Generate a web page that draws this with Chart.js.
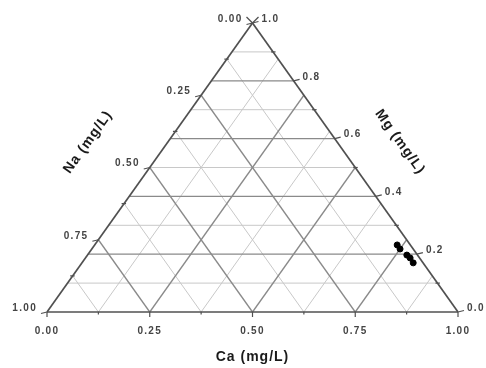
<!DOCTYPE html>
<html>
<head>
<meta charset="utf-8">
<script src="https://cdn.jsdelivr.net/npm/chart.js@4/dist/chart.umd.min.js"></script>
<style>
html,body{margin:0;padding:0;background:#fff;}
#wrap{width:486px;height:368px;position:relative;}
</style>
</head>
<body>
<div id="wrap"><canvas id="c" width="486" height="368"></canvas></div>
<script>
// ---- Data (ternary compositions) ----
const sampleCa = [0.736, 0.750, 0.777, 0.790, 0.806];
const sampleMg = [0.232, 0.218, 0.197, 0.187, 0.170];
const sampleNa = [0.032, 0.032, 0.026, 0.023, 0.024];

// ---- Tick labels ----
const caTickLabels = ['0.00', '0.25', '0.50', '0.75', '1.00'];
const naTickLabels = ['0.00', '0.25', '0.50', '0.75', '1.00'];
const mgTickLabels = ['0.0', '0.2', '0.4', '0.6', '0.8', '1.0'];
const caNaGridSteps = [0.125, 0.25, 0.375, 0.5, 0.625, 0.75, 0.875];
const mgGridSteps = [0.1, 0.2, 0.3, 0.4, 0.5, 0.6, 0.7, 0.8, 0.9];
const axisTitles = { ca: 'Ca (mg/L)', na: 'Na (mg/L)', mg: 'Mg (mg/L)' };

// ternary -> cartesian (x along base, y = height fraction)
function tern(ca, mg) { return { x: ca + mg / 2, y: mg }; }

const DARK = '#8a8a8a', LIGHT = '#c8c8c8', EDGE = '#505050';
const isMajor = v => Math.abs(v * 4 - Math.round(v * 4)) < 1e-6;
const isMajorMg = v => Math.abs(v * 5 - Math.round(v * 5)) < 1e-6;

const datasets = [];
function seg(a, b, color, width, order) {
  datasets.push({ data: [a, b], showLine: true, pointRadius: 0, borderColor: color,
    borderWidth: width, order: order, clip: false, tension: 0 });
}
// constant Mg (horizontal)
mgGridSteps.forEach(m => {
  const major = isMajorMg(m);
  seg(tern(0, m), tern(1 - m, m), major ? DARK : LIGHT, major ? 1.3 : 1, major ? 2 : 3);
});
// constant Ca (parallel to left edge)
caNaGridSteps.forEach(c => {
  const major = isMajor(c);
  seg(tern(c, 0), tern(c, 1 - c), major ? DARK : LIGHT, major ? 1.3 : 1, major ? 2 : 3);
});
// constant Na (parallel to right edge)
caNaGridSteps.forEach(n => {
  const major = isMajor(n);
  seg(tern(1 - n, 0), tern(0, 1 - n), major ? DARK : LIGHT, major ? 1.3 : 1, major ? 2 : 3);
});
// edges
seg(tern(0, 0), tern(1, 0), EDGE, 1.7, 1);
seg(tern(1, 0), tern(0, 1), EDGE, 1.7, 1);
seg(tern(0, 1), tern(0, 0), EDGE, 1.7, 1);
// samples
datasets.push({
  data: sampleCa.map((c, i) => tern(c, sampleMg[i])),
  pointRadius: 3, pointBackgroundColor: '#000', pointBorderColor: '#000',
  showLine: false, order: 0, clip: false
});

const labelPlugin = {
  id: 'ternLabels',
  afterDatasetsDraw(chart) {
    const ctx = chart.ctx, xs = chart.scales.x, ys = chart.scales.y;
    const P = (ca, mg) => { const t = tern(ca, mg); return [xs.getPixelForValue(t.x), ys.getPixelForValue(t.y)]; };
    ctx.save();
    ctx.strokeStyle = EDGE; ctx.lineWidth = 1.2;
    const line = (x1, y1, x2, y2) => { ctx.beginPath(); ctx.moveTo(x1, y1); ctx.lineTo(x2, y2); ctx.stroke(); };
    // bottom ticks (Ca)
    for (let i = 0; i <= 8; i++) {
      const v = i / 8; const [px, py] = P(v, 0);
      line(px, py, px, py + (i % 2 === 0 ? 5 : 2.5));
    }
    // left ticks (Na): Na = v on left edge -> Ca=0, Mg=1-v
    for (let i = 0; i <= 8; i++) {
      const v = i / 8; const [px, py] = P(0, 1 - v);
      if (i % 2 === 0) line(px, py, px - 6, py + 1.5); else line(px - 2.5, py, px + 2, py);
    }
    // right ticks (Mg): Ca = 1-m on right edge
    for (let i = 0; i <= 10; i++) {
      const m = i / 10; const [px, py] = P(1 - m, m);
      if (i % 2 === 0) line(px, py, px + 6, py - 1.5); else line(px - 2, py, px + 2.5, py);
    }
    // apex cross
    { const [px, py] = P(0, 1); line(px, py, px - 6, py - 6); line(px, py, px + 6, py - 6); }

    ctx.fillStyle = '#444';
    ctx.font = 'bold 10px "Liberation Sans", Arial, sans-serif';
    try { ctx.letterSpacing = '1.3px'; } catch (e) {}
    // bottom labels
    ctx.textAlign = 'center'; ctx.textBaseline = 'middle';
    caTickLabels.forEach((t, i) => { const [px, py] = P(i / 4, 0); ctx.fillText(t, px, py + 19); });
    // left labels
    ctx.textAlign = 'right';
    naTickLabels.forEach((t, i) => { const v = i / 4; const [px, py] = P(0, 1 - v); ctx.fillText(t, px - 10, py - 4); });
    // right labels
    ctx.textAlign = 'left';
    mgTickLabels.forEach((t, i) => { const m = i / 5; const [px, py] = P(1 - m, m); ctx.fillText(t, px + 9, py - 4); });

    // titles
    ctx.fillStyle = '#1a1a1a';
    ctx.font = 'bold 14px "Liberation Sans", Arial, sans-serif';
    try { ctx.letterSpacing = '1px'; } catch (e) {}
    ctx.textAlign = 'center'; ctx.textBaseline = 'middle';
    const [bx0] = P(0, 0), [bx1] = P(1, 0), [, by] = P(0, 0);
    ctx.fillText(axisTitles.ca, (bx0 + bx1) / 2, by + 45);
    const [lx0, ly0] = P(0, 0), [tx, ty] = P(0, 1);
    const ang = Math.atan2(ly0 - ty, tx - lx0);
    ctx.save(); ctx.translate(88, 142); ctx.rotate(-ang); ctx.fillText(axisTitles.na, 0, 0); ctx.restore();
    ctx.save(); ctx.translate(400, 142); ctx.rotate(ang); ctx.fillText(axisTitles.mg, 0, 0); ctx.restore();
    ctx.restore();
  }
};

new Chart(document.getElementById('c'), {
  type: 'scatter',
  data: { datasets },
  options: {
    responsive: false, animation: false,
    layout: { padding: { left: 47, right: 28, top: 23, bottom: 56 } },
    scales: {
      x: { type: 'linear', min: 0, max: 1, display: false },
      y: { type: 'linear', min: 0, max: 1, display: false }
    },
    plugins: { legend: { display: false }, tooltip: { enabled: false } },
    elements: { line: { tension: 0 } }
  },
  plugins: [labelPlugin]
});
</script>
</body>
</html>
